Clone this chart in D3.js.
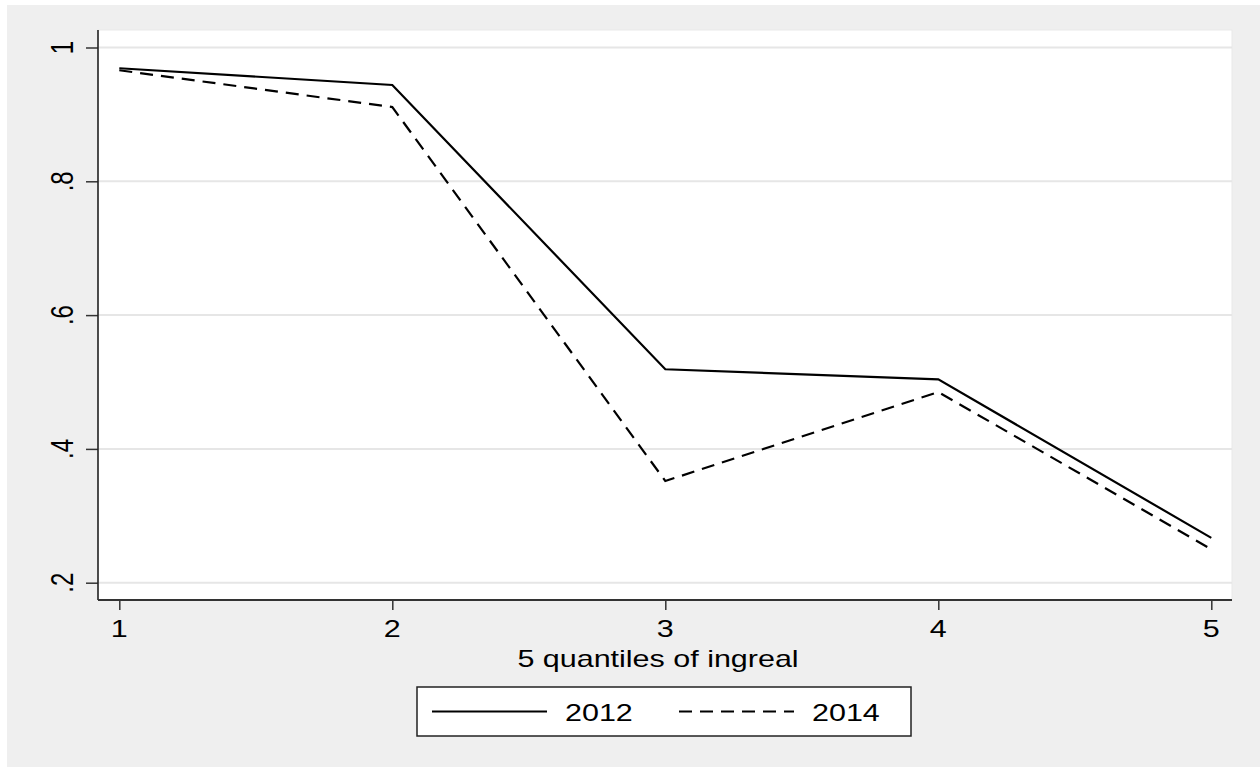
<html>
    <head>
        <script src='https://d3js.org/d3.v7.min.js'></script>
        <style>
            body { margin: 0; background: #ffffff; }
            text { font-family: "Liberation Sans", Arial, Helvetica, sans-serif; fill: #000; }
        </style>
    </head>

    <body onload='init()'>
        <svg width=1260 height=767>
        </svg>

        <script>
            // chart data
            var quantiles = [1, 2, 3, 4, 5];
            var y2012 = [0.969, 0.944, 0.519, 0.504, 0.267];
            var y2014 = [0.966, 0.911, 0.352, 0.485, 0.250];
            var yTicks = [0.2, 0.4, 0.6, 0.8, 1];
            var yTickLabels = [".2", ".4", ".6", ".8", "1"];
            var seriesNames = ["2012", "2014"];
            var xTitle = "5 quantiles of ingreal";

            function init() {
                svg = d3.select("svg");
                stretch = 1.27;   // text in the picture is wider than tall
                fsize = 24;

                plot_left = 98;
                plot_right = 1232;
                plot_top = 30;
                plot_bottom = 600;

                xs = d3.scaleLinear()
                    .domain([1, 5])
                    .range([119.3, 1211.3]);
                ys = d3.scaleLinear()
                    .domain([0.2, 1])
                    .range([582.7, 47.5]);

                // graph region background
                svg.append("rect")
                    .attr("x", 7)
                    .attr("y", 5)
                    .attr("width", 1260 - 7)
                    .attr("height", 767 - 5)
                    .attr("fill", "#efefef");

                // plot region
                svg.append("rect")
                    .attr("x", plot_left)
                    .attr("y", plot_top)
                    .attr("width", plot_right - plot_left)
                    .attr("height", plot_bottom - plot_top)
                    .attr("fill", "#ffffff")
                    .attr("stroke", "#e9e9e9")
                    .attr("stroke-width", 1);

                // grid lines
                svg.append("g")
                    .selectAll("line")
                    .data(yTicks)
                    .enter()
                    .append("line")
                    .attr("x1", plot_left)
                    .attr("x2", plot_right)
                    .attr("y1", function(d) {return ys(d)})
                    .attr("y2", function(d) {return ys(d)})
                    .attr("stroke", "#e6e6e6")
                    .attr("stroke-width", 2);

                // y axis
                yax = svg.append("g")
                    .attr("transform", "translate(" + plot_left + ",0)")
                    .call(d3.axisLeft(ys).tickValues(yTicks).tickSize(12).tickFormat(""));
                yax.select(".domain").remove();
                yax.selectAll(".tick line").attr("stroke", "#333").attr("stroke-width", 1.5);
                svg.append("line")
                    .attr("x1", plot_left).attr("x2", plot_left)
                    .attr("y1", plot_top).attr("y2", plot_bottom)
                    .attr("stroke", "#222")
                    .attr("stroke-width", 1.6);

                svg.append("g")
                    .selectAll("text")
                    .data(yTicks)
                    .enter()
                    .append("text")
                    .attr("transform", function(d) {
                        return "translate(73," + ys(d) + ") scale(" + stretch + ",1) rotate(-90)";
                    })
                    .style("text-anchor", "middle")
                    .style("font-size", fsize + "px")
                    .text(function(d, i) {return yTickLabels[i]});

                // x axis
                xax = svg.append("g")
                    .attr("transform", "translate(0," + plot_bottom + ")")
                    .call(d3.axisBottom(xs).tickValues(quantiles).tickSize(10).tickFormat(""));
                xax.select(".domain").remove();
                xax.selectAll(".tick line").attr("stroke", "#333").attr("stroke-width", 1.5);
                svg.append("line")
                    .attr("x1", plot_left).attr("x2", plot_right)
                    .attr("y1", plot_bottom).attr("y2", plot_bottom)
                    .attr("stroke", "#333")
                    .attr("stroke-width", 2);

                svg.append("g")
                    .selectAll("text")
                    .data(quantiles)
                    .enter()
                    .append("text")
                    .attr("transform", function(d) {
                        return "translate(" + xs(d) + ",637) scale(" + stretch + ",1)";
                    })
                    .style("text-anchor", "middle")
                    .style("font-size", fsize + "px")
                    .text(function(d) {return d});

                // x axis title
                mid_x = (plot_left + plot_right) / 2;
                svg.append("text")
                    .attr("transform", "translate(" + (mid_x - 7) + ",667) scale(" + stretch + ",1)")
                    .style("text-anchor", "middle")
                    .style("font-size", fsize + "px")
                    .text(xTitle);

                // lines
                line = d3.line()
                    .x(function(d, i) {return xs(quantiles[i])})
                    .y(function(d) {return ys(d)});

                svg.append("path")
                    .datum(y2012)
                    .attr("d", line)
                    .attr("fill", "none")
                    .attr("stroke", "#000")
                    .attr("stroke-width", 2.2)
                    .attr("stroke-linejoin", "miter");

                svg.append("path")
                    .datum(y2014)
                    .attr("d", line)
                    .attr("fill", "none")
                    .attr("stroke", "#000")
                    .attr("stroke-width", 2.2)
                    .attr("stroke-dasharray", "13,8");

                // legend
                leg_w = 494;
                leg_left = mid_x - leg_w / 2 - 1;
                leg_top = 687;
                leg_h = 49;
                leg_mid = leg_top + leg_h / 2;
                legend = svg.append("g").attr("class", "legend");
                legend.append("rect")
                    .attr("x", leg_left)
                    .attr("y", leg_top)
                    .attr("width", leg_w)
                    .attr("height", leg_h)
                    .attr("fill", "#ffffff")
                    .attr("stroke", "#222")
                    .attr("stroke-width", 1.5);

                dashes = ["none", "13,8"];
                item_x = [leg_left + 15, leg_left + 262];
                legend.selectAll("line")
                    .data(seriesNames)
                    .enter()
                    .append("line")
                    .attr("x1", function(d, i) {return item_x[i]})
                    .attr("x2", function(d, i) {return item_x[i] + 115})
                    .attr("y1", leg_mid)
                    .attr("y2", leg_mid)
                    .attr("stroke", "#000")
                    .attr("stroke-width", 2.2)
                    .attr("stroke-dasharray", function(d, i) {return dashes[i]});

                legend.selectAll("text")
                    .data(seriesNames)
                    .enter()
                    .append("text")
                    .attr("transform", function(d, i) {
                        return "translate(" + (item_x[i] + 133) + "," + (leg_mid + 9) + ") scale(" + stretch + ",1)";
                    })
                    .style("font-size", fsize + "px")
                    .text(function(d) {return d});
            }
        </script>

    </body>
</html>
